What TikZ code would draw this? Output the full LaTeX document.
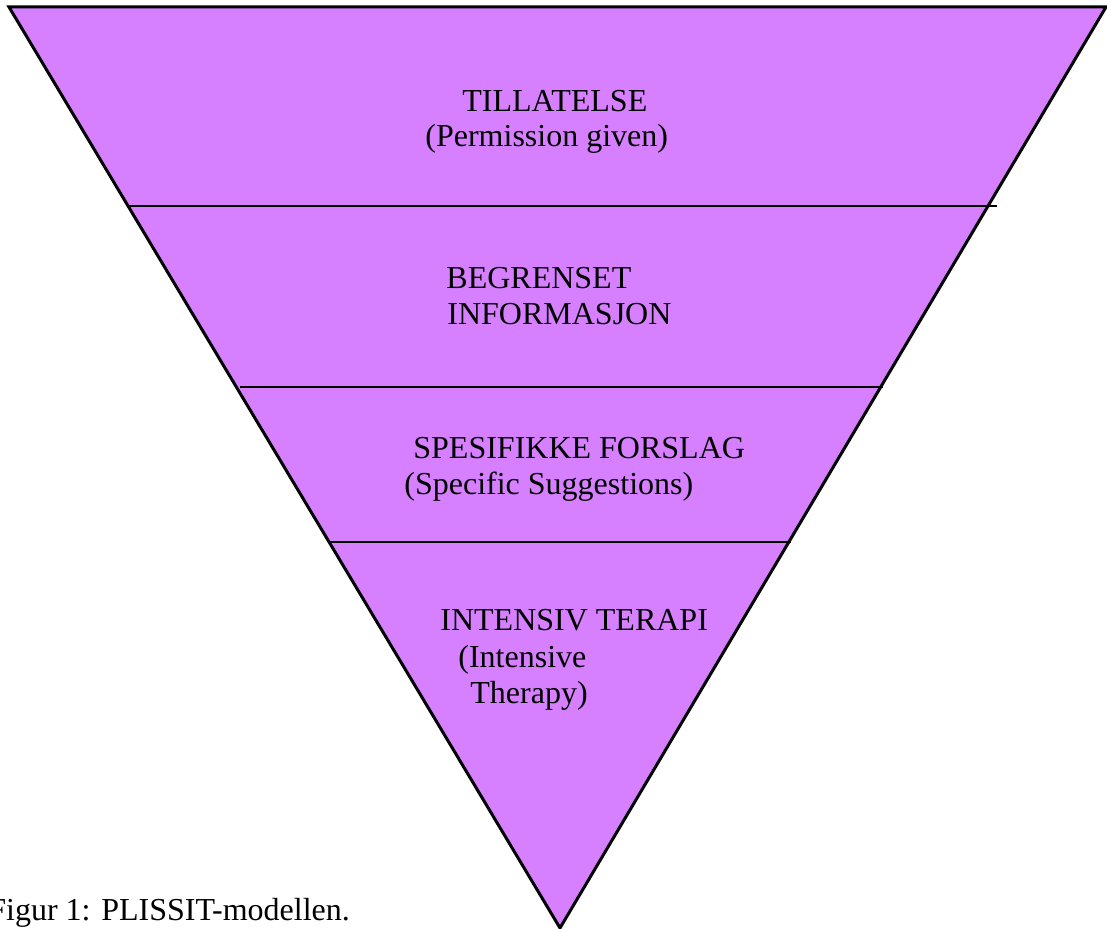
\documentclass[tikz,border=0pt]{standalone}
\usepackage{fontspec}
\setmainfont{Liberation Serif}
\usepackage{tikz}
\usetikzlibrary{calc, positioning}
\definecolor{lilac}{RGB}{214,128,255}

\begin{document}
\begin{tikzpicture}[
    x=0.5pt, y=-0.5pt,
    every node/.style={inner sep=0pt, font=\fontsize{16}{18}\selectfont},
    pyramid/.style={fill=lilac, draw=black, line width=1.5pt, line join=miter},
    divider/.style={draw=black, line width=0.8pt},
    txt/.style={anchor=base west}
]
\useasboundingbox (0,0) rectangle (1107,929);

% corners of the inverted triangle
\coordinate (tl) at (9,7);
\coordinate (tr) at (1106,7);
\coordinate (apex) at (560,928);
\draw[pyramid] (tl) -- (tr) -- (apex) -- cycle;

% level dividers
\coordinate (d1l) at (129,206);
\coordinate (d1r) at (997,206);
\coordinate (d2l) at (240,387);
\coordinate (d2r) at (883,387);
\coordinate (d3l) at (330,542);
\coordinate (d3r) at (791,542);
\draw[divider] (d1l) -- (d1r);
\draw[divider] (d2l) -- (d2r);
\draw[divider] (d3l) -- (d3r);

% level texts
\node[txt] (t1a) at (462,112) {TILLATELSE};
\node[txt] (t1b) at (425,147) {(Permission given)};
\node[txt] (t2a) at (446,289) {BEGRENSET};
\node[txt] (t2b) at (447,325) {INFORMASJON};
\node[txt] (t3a) at (413,459) {SPESIFIKKE FORSLAG};
\node[txt] (t3b) at (404,495) {(Specific Suggestions)};
\node[txt] (t4a) at (440,631) {INTENSIV TERAPI};
\node[txt] (t4b) at (458,667) {(Intensive};
\node[txt] (t4c) at (470,703) {Therapy)};

\node[txt] (caption) at (-12,920) {Figur 1: PLISSIT-modellen.};

\end{tikzpicture}
\end{document}
